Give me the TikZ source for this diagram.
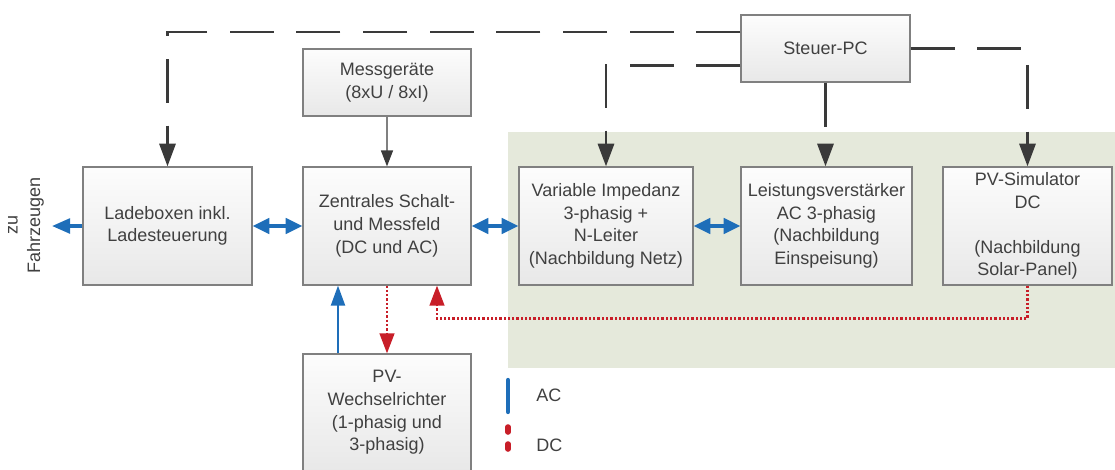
\documentclass[tikz,border=0pt]{standalone}
\usepackage{fontspec}
\setmainfont{Liberation Sans}
\usetikzlibrary{arrows.meta}

\definecolor{ctrlgray}{RGB}{58,58,58}
\definecolor{boxborder}{RGB}{128,128,128}
\definecolor{textgray}{RGB}{64,64,64}
\definecolor{acblue}{RGB}{30,110,185}
\definecolor{dcred}{RGB}{200,30,40}
\definecolor{bggreen}{RGB}{229,233,219}
\newcommand{\diafont}{\fontsize{13.5}{17}\selectfont}

\tikzset{
  box/.style={draw=boxborder, line width=0.9pt, top color=white!99!black, bottom color=white!91!black,
    text=textgray, align=center, inner sep=0pt, font=\diafont},
  lbl/.style={text=textgray, inner sep=0pt, font=\diafont},
  ctrl/.style={draw=ctrlgray, line width=2.2pt, dash pattern=on 33pt off 17pt,
    -{Triangle[length=17pt,width=12pt]}},
  messarrow/.style={draw=boxborder, line width=1pt, -{Triangle[length=12pt,width=9pt,color=ctrlgray]}},
  acboth/.style={draw=acblue, line width=2.5pt, {Triangle[length=12.5pt,width=11.5pt]}-{Triangle[length=12.5pt,width=11.5pt]}},
  acone/.style={draw=acblue, line width=2.5pt, -{Triangle[length=13.5pt,width=11pt]}},
  acup/.style={draw=acblue, line width=1.6pt, -{Triangle[length=15pt,width=10.5pt]}},
  dcline/.style={draw=dcred, line width=1.7pt, dash pattern=on 1.7pt off 1.5pt, -{Triangle[length=15pt,width=11pt]}}
}

\begin{document}
\begin{tikzpicture}[x=0.75pt,y=0.75pt,yscale=-1,xscale=1]
\useasboundingbox (0,0) rectangle (1115,469);

%Shape: Rectangle (Pruefstand)
\fill[bggreen] (508,132) rectangle (1115,368);

%Shape: Boxes
\node[box, minimum width=126.75pt, minimum height=50.25pt] (steuer) at (825.5,48.5) {Steuer-PC};
\node[box, minimum width=126pt, minimum height=50.25pt] (mess) at (387,82.5) {Messgeräte\\(8xU / 8xI)};
\node[box, minimum width=126.75pt, minimum height=88.5pt] (lade) at (167.5,226) {Ladeboxen inkl.\\Ladesteuerung};
\node[box, minimum width=126pt, minimum height=88.5pt] (zentral) at (387,226) {Zentrales Schalt-\\und Messfeld\\(DC und AC)};
\node[box, minimum width=130.5pt, minimum height=88.5pt] (varimp) at (606,226) {Variable Impedanz\\3-phasig +\\N-Leiter\\(Nachbildung Netz)};
\node[box, minimum width=128.25pt, minimum height=88.5pt] (lv) at (826.5,226) {Leistungsverstärker\\AC 3-phasig\\(Nachbildung\\Einspeisung)};
\node[box, minimum width=126.75pt, minimum height=88.5pt] (pvsim) at (1027.5,226) {PV-Simulator\\DC\\[17pt](Nachbildung\\Solar-Panel)};
\node[box, minimum width=126pt, minimum height=87.75pt] (pvwr) at (387,412.5) {PV-\\Wechselrichter\\(1-phasig und\\3-phasig)};

% Text Node
\node[lbl, rotate=90, align=center] (fahrz) at (26,225) {zu\\Fahrzeugen};
\coordinate (fzend) at (52,226);

%Steuerleitungen
\draw[ctrl] ([yshift=-12.4pt]steuer.west) -| (lade.north);
\draw[ctrl] ([yshift=12.4pt]steuer.west) -| (varimp.north);
\draw[ctrl] (steuer.east) -| (pvsim.north);
\draw[ctrl] (steuer.south) -- (steuer.south |- lv.north);
\draw[messarrow] (mess) -- (zentral);

%AC
\draw[acboth] (lade) -- (zentral);
\draw[acboth] (zentral) -- (varimp);
\draw[acboth] (varimp) -- (lv);
\draw[acone] (lade.west) -- (fzend);
\draw[acup] ([xshift=-36.75pt]pvwr.north) -- ([xshift=-36.75pt]zentral.south);

%DC
\draw[dcline] (zentral.south) -- (pvwr.north);
\draw[dcline] (pvsim.south) -- ++(0,33) -| ([xshift=37.5pt]zentral.south);

%Legende
\draw[acblue, line width=3.2pt, line cap=round] (508,380) -- (508,412);
\draw[dcred, line width=4.2pt, line cap=round] (508,427) -- (508,432) (508,444) -- (508,449);
\node[lbl, anchor=west] (ac) at (536,395) {AC};
\node[lbl, anchor=west] (dc) at (536,445) {DC};

\end{tikzpicture}
\end{document}
